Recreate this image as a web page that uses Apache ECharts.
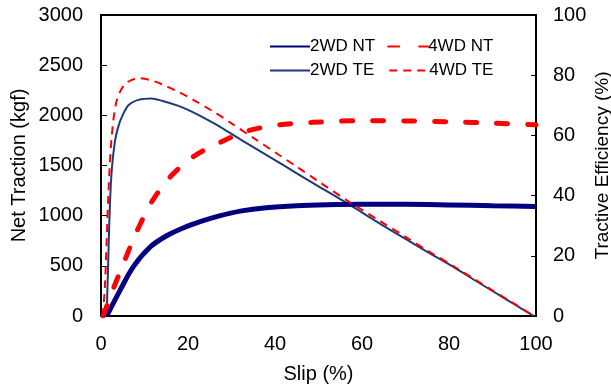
<!DOCTYPE html>
<html><head><meta charset="utf-8">
<script src="https://cdn.jsdelivr.net/npm/echarts@6/dist/echarts.min.js"></script>
<style>html,body{margin:0;padding:0;background:#fff}#c{width:611px;height:389px}</style>
</head><body><div id="c"></div>
<script>
// Net traction (kgf), left axis
const slip2NT = [1.3, 2.5, 4.4, 7.4, 11.3, 15.1, 19, 22.8, 27, 32, 38, 45, 52, 60, 70, 80, 90, 100];
const val2NT  = [0, 100, 258, 490, 688, 800, 880, 940, 995, 1045, 1080, 1100, 1109, 1113, 1113, 1107, 1099, 1092];
const slip4NT = [0.5, 2.7, 5.5, 8.2, 11.7, 16.2, 21.6, 28.1, 32.7, 36, 41.1, 48.8, 55, 60.3, 70, 80, 90, 100];
const val4NT  = [0, 258, 560, 840, 1140, 1400, 1599, 1745, 1830, 1870, 1907, 1930, 1942, 1946, 1944, 1936, 1922, 1905];
// Tractive efficiency (%), right axis
const slip2TE = [1.3, 1.6, 2, 2.45, 3.2, 4, 4.75, 6.3, 8.6, 11.6, 14, 17.8, 20, 22.8, 26.2, 30, 35, 40, 45, 50, 57.2, 64.1, 70, 75, 81, 86, 90, 95, 99.5];
const val2TE  = [0, 15, 35, 48, 58, 63, 66, 70, 71.8, 72.3, 71.5, 69.8, 68.5, 66.5, 63.8, 60.5, 56.1, 51.8, 47.4, 43.1, 36.9, 30.7, 25.6, 21.3, 16.3, 11.8, 8.3, 3.9, 0];
const slip4TE = [0.4, 0.9, 1.7, 2.45, 3.6, 5.5, 8.6, 11, 14, 18, 21.6, 26.2, 30, 35, 40, 45, 50, 57.2, 64.1, 70, 75, 81, 86, 90, 95, 99.5];
const val4TE  = [0, 10, 40.6, 59.4, 71.5, 77, 79, 78.5, 77, 74.3, 71.5, 67.6, 64, 59.2, 54.4, 49.6, 44.7, 37.8, 31.6, 26.3, 21.8, 16.6, 12.1, 8.5, 4.1, 0];

const leftTicks = [0, 500, 1000, 1500, 2000, 2500, 3000];
const rightTicks = [0, 20, 40, 60, 80, 100];
const xTicks = [0, 20, 40, 60, 80, 100];

const pairs = (xs, ys) => xs.map((x, i) => [x, ys[i]]);
const FONT = 'Liberation Sans';
const legendCommon = {itemWidth: 40, itemHeight: 14,
  itemStyle: {color: 'transparent', borderWidth: 0, opacity: 0},
  textStyle: {fontFamily: FONT, fontSize: 17, color: '#000', padding: [0, 0, 0, -5]}};
const chart = echarts.init(document.getElementById('c'));
chart.setOption({
  animation: false,
  backgroundColor: '#fff',
  textStyle: {fontFamily: FONT},
  grid: {left: 101, right: 75, top: 15, bottom: 73, outerBoundsMode: 'none', containLabel: false,
         show: true, borderColor: '#000', borderWidth: 2, backgroundColor: 'transparent'},
  legend: [
    Object.assign({data: ['2WD NT', '4WD NT'], left: 264, top: 33, itemGap: 12}, legendCommon),
    Object.assign({data: ['2WD TE', '4WD TE'], left: 264, top: 57, itemGap: 14}, legendCommon)
  ],
  xAxis: {
    type: 'value', min: 0, max: 100, interval: 20,
    name: 'Slip (%)', nameLocation: 'middle', nameGap: 48, nameMoveOverlap: false,
    nameTextStyle: {fontFamily: FONT, fontSize: 20, color: '#000'},
    axisLine: {show: true, lineStyle: {color: '#000', width: 2}},
    axisTick: {show: false},
    splitLine: {show: false},
    axisLabel: {color: '#000', fontSize: 20, fontFamily: FONT, margin: 18,
      formatter: v => xTicks.includes(v) ? String(v) : ''}
  },
  yAxis: [
    {type: 'value', min: 0, max: 3000, interval: 500, position: 'left',
     name: 'Net Traction (kgf)', nameLocation: 'middle', nameGap: 72, nameRotate: 90, nameMoveOverlap: false,
     nameTextStyle: {fontFamily: FONT, fontSize: 20, color: '#000'},
     axisLine: {show: true, lineStyle: {color: '#000', width: 2}},
     axisTick: {show: true, inside: true, length: 6, lineStyle: {color: '#000', width: 1}},
     splitLine: {show: false},
     axisLabel: {color: '#000', fontSize: 20, fontFamily: FONT, margin: 18,
       formatter: v => leftTicks.includes(v) ? String(v) : ''}},
    {type: 'value', min: 0, max: 100, interval: 20, position: 'right',
     name: 'Tractive Efficiency (%)', nameLocation: 'middle', nameGap: 57, nameRotate: 90, nameMoveOverlap: false,
     nameTextStyle: {fontFamily: FONT, fontSize: 19, color: '#000'},
     axisLine: {show: true, lineStyle: {color: '#000', width: 2}},
     axisTick: {show: true, inside: true, length: 5, lineStyle: {color: '#000', width: 1}},
     splitLine: {show: false},
     axisLabel: {color: '#000', fontSize: 20, fontFamily: FONT, margin: 17,
       formatter: v => rightTicks.includes(v) ? String(v) : ''}}
  ],
  series: [
    {name: '2WD NT', type: 'line', yAxisIndex: 0, data: pairs(slip2NT, val2NT), showSymbol: false, symbol: 'none',
     smooth: 0.3, lineStyle: {color: '#000080', width: 5}, itemStyle: {color: '#000080'}, z: 3},
    {name: '4WD NT', type: 'line', yAxisIndex: 0, data: pairs(slip4NT, val4NT), showSymbol: false, symbol: 'none',
     smooth: 0.3, lineStyle: {color: '#ff0000', width: 5, type: [11, 20], cap: 'round'}, itemStyle: {color: '#ff0000'}, z: 4},
    {name: '2WD TE', type: 'line', yAxisIndex: 1, data: pairs(slip2TE, val2TE), showSymbol: false, symbol: 'none',
     smooth: 0.3, lineStyle: {color: '#1f3a78', width: 2}, itemStyle: {color: '#1f3a78'}, z: 2},
    {name: '4WD TE', type: 'line', yAxisIndex: 1, data: pairs(slip4TE, val4TE), showSymbol: false, symbol: 'none',
     smooth: 0.3, lineStyle: {color: '#ff0000', width: 2, type: [8, 6]}, itemStyle: {color: '#ff0000'}, z: 5}
  ]
});
</script></body></html>
